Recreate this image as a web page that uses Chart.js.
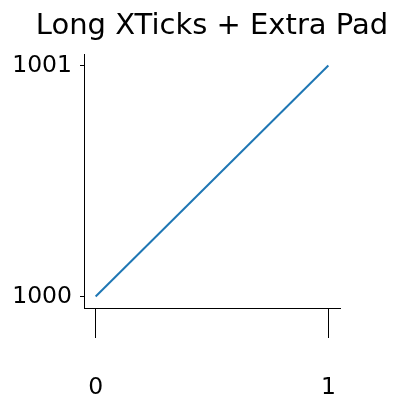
<!DOCTYPE html>
<html>
<head>
<meta charset="utf-8">
<script src="https://cdn.jsdelivr.net/npm/chart.js@4.4.0/dist/chart.umd.min.js"></script>
<style>
  html, body { margin: 0; padding: 0; background: #fff; }
  #wrap { width: 401px; height: 409px; }
</style>
</head>
<body>
<div id="wrap"><canvas id="lineChart" width="401" height="409"></canvas></div>
<script>
const lineColor = "#1f77b4";
const fontFamily = "'DejaVu Sans', sans-serif";
const titleText = 'Long XTicks + Extra Pad';

// data
const xValues = [0, 1];
const yValues = [1000, 1001];
const xTicks = [0, 1];
const yTicks = [1000, 1001];

const points = xValues.map((x, i) => ({ x, y: yValues[i] }));

// title centred over the plot area (matplotlib style), not over the canvas
const axesTitle = {
    id: 'axesTitle',
    afterDraw(chart) {
        const { ctx, chartArea } = chart;
        ctx.save();
        ctx.fillStyle = '#000';
        ctx.font = `29px ${fontFamily}`;
        ctx.textAlign = 'center';
        ctx.textBaseline = 'alphabetic';
        ctx.fillText(titleText, (chartArea.left + chartArea.right) / 2, 33.5);
        ctx.restore();
    }
};

new Chart(document.getElementById('lineChart').getContext('2d'), {
    type: 'scatter',
    data: {
        datasets: [{
            data: points,
            showLine: true,
            borderColor: lineColor,
            borderWidth: 2,
            pointRadius: 0,
            pointHoverRadius: 0,
            fill: false,
        }]
    },
    plugins: [axesTitle],
    options: {
        responsive: false,
        animation: false,
        events: [],
        layout: { padding: { left: 0, right: 61, top: 54, bottom: 0 } },
        plugins: {
            legend: { display: false },
            tooltip: { enabled: false },
            title: { display: false }
        },
        scales: {
            x: {
                type: 'linear',
                min: -0.05,
                max: 1.05,
                afterBuildTicks: (axis) => { axis.ticks = xTicks.map(v => ({ value: v })); },
                afterFit: (axis) => { axis.height = 101; },
                ticks: {
                    color: '#000',
                    padding: 36,
                    maxRotation: 0,
                    font: { family: fontFamily, size: 23.5 },
                    callback: (v) => String(v)
                },
                grid: {
                    drawOnChartArea: false,
                    drawTicks: true,
                    tickLength: 30,
                    tickColor: '#000',
                    tickWidth: 1
                },
                border: { display: true, color: '#000', width: 1 }
            },
            y: {
                type: 'linear',
                min: 999.95,
                max: 1001.05,
                afterBuildTicks: (axis) => { axis.ticks = yTicks.map(v => ({ value: v })); },
                afterFit: (axis) => { axis.width = 84; },
                ticks: {
                    color: '#000',
                    padding: 8,
                    font: { family: fontFamily, size: 23.5 },
                    callback: (v) => String(v)
                },
                grid: {
                    drawOnChartArea: false,
                    drawTicks: true,
                    tickLength: 4,
                    tickColor: '#000',
                    tickWidth: 1
                },
                border: { display: true, color: '#000', width: 1 }
            }
        }
    }
});
</script>
</body>
</html>
